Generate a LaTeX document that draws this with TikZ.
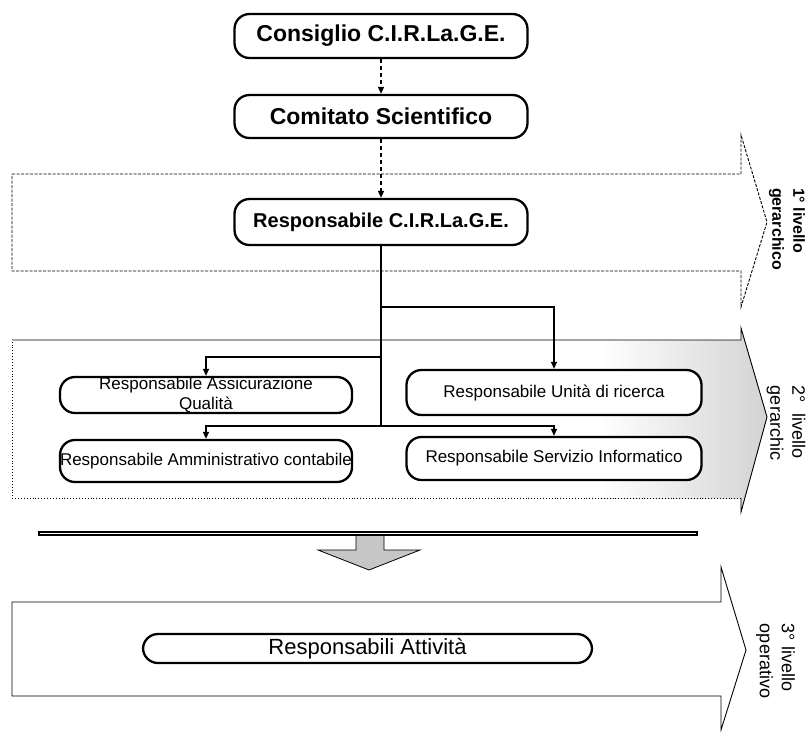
\documentclass[tikz,border=0pt]{standalone}
\usepackage{fontspec}
\setmainfont{Liberation Sans}
\usetikzlibrary{arrows.meta}
\begin{document}
\begin{tikzpicture}[x=1pt,y=-1pt,
  box/.style={draw, line width=2.3pt, rounded corners=15pt, inner sep=0pt, fill=white, align=center},
  topbox/.style={box, minimum width=293pt, font=\fontsize{23}{27}\selectfont\bfseries},
  respbox/.style={box, minimum width=293pt, font=\fontsize{20}{24}\selectfont\bfseries},
  midbox/.style={box, font=\fontsize{17}{20}\selectfont},
  lowbox/.style={box, font=\fontsize{22}{26}\selectfont},
  conn/.style={line width=1.3pt, -{Triangle[length=7pt,width=6pt]}},
  dconn/.style={conn, dash pattern=on 4pt off 3pt},
  trunk/.style={line width=2.6pt},
  levelA/.style={line width=0.9pt, dash pattern=on 3pt off 1.5pt},
  levelB/.style={line width=0.9pt},
  levelC/.style={line width=0.9pt, dotted},
  lvlbold/.style={rotate=-90, align=left, font=\fontsize{16}{21}\selectfont\bfseries},
  lvl/.style={rotate=-90, align=left, font=\fontsize{18}{22}\selectfont},
]
\useasboundingbox (0,0) rectangle (811,731);
\fill[white] (0,0) rectangle (811,731);

% ---- level 1 big arrow (dashed outline)
\draw[levelA] (12,174) -- (741,174) -- (741,135) -- (767,222) -- (741,307) -- (741,271) -- (12,271) -- cycle;

% ---- level 2 big arrow (shaded near head)
\begin{scope}
  \clip (12,340) -- (741,340) -- (741,328) -- (767,417) -- (741,512) -- (741,498) -- (12,498) -- cycle;
  \fill[left color=white, right color=gray!35] (600,320) rectangle (770,520);
\end{scope}
\draw[levelB] (12,340) -- (741,340) -- (741,328) -- (767,417) -- (741,512) -- (741,498);
\draw[levelC] (741,498) -- (12,498) -- (12,340);

% ---- level 3 big arrow
\draw[levelB] (12,602) -- (721,602) -- (721,567) -- (746,650) -- (721,730) -- (721,696) -- (12,696) -- cycle;

% ---- boxes
\node[topbox, minimum height=44pt] (consiglio) at (381,36) {Consiglio C.I.R.La.G.E.};
\node[topbox, minimum height=43pt] (comitato) at (381,116.5) {Comitato Scientifico};
\node[respbox, minimum height=46pt] (resp) at (381,222) {Responsabile C.I.R.La.G.E.};

\node[midbox, minimum width=292pt, minimum height=36pt] (assic) at (206,395) {Responsabile Assicurazione\\Qualità};
\node[midbox, minimum width=295pt, minimum height=45pt] (unita) at (554,392.5) {Responsabile Unità di ricerca};
\node[midbox, minimum width=292pt, minimum height=42pt] (ammin) at (206,461) {Responsabile Amministrativo contabile};
\node[midbox, minimum width=295pt, minimum height=43pt] (serv) at (554,458.5) {Responsabile Servizio Informatico};

\node[lowbox, minimum width=449pt, minimum height=29pt] (attiv) at (367.5,648.5) {Responsabili Attività};

% ---- connectors
\draw[dconn] (consiglio.south) -- (comitato.north);
\draw[dconn] (comitato.south) -- (resp.north);

\coordinate (j1) at (381,307);
\coordinate (j2) at (381,357);
\coordinate (j3) at (381,426);
\draw[trunk] (resp.south) -- (j3);
\draw[conn] (j1) -| (unita.north);
\draw[conn] (j2) -| (assic.north);
\draw[conn] (j3) -| (ammin.north);
\draw[conn] (j3) -| (serv.north);

% ---- transition bar and down arrow
\draw[fill=gray!45, line width=0.8pt] (356,533) -- (384,533) -- (384,550) -- (420,550) -- (369,570) -- (318,550) -- (356,550) -- cycle;
\draw[line width=5pt] (38,533) -- (698,533);
\draw[white, line width=1pt] (40,533) -- (696,533);

% ---- level labels
\node[lvlbold] (l1) at (787,229) {1° livello\\gerarchico};
\node[lvl] (l2) at (786,423) {2°\ \ livello\\gerarchic};
\node[lvl] (l3) at (775.5,661) {3° livello\\operativo};
\end{tikzpicture}
\end{document}
